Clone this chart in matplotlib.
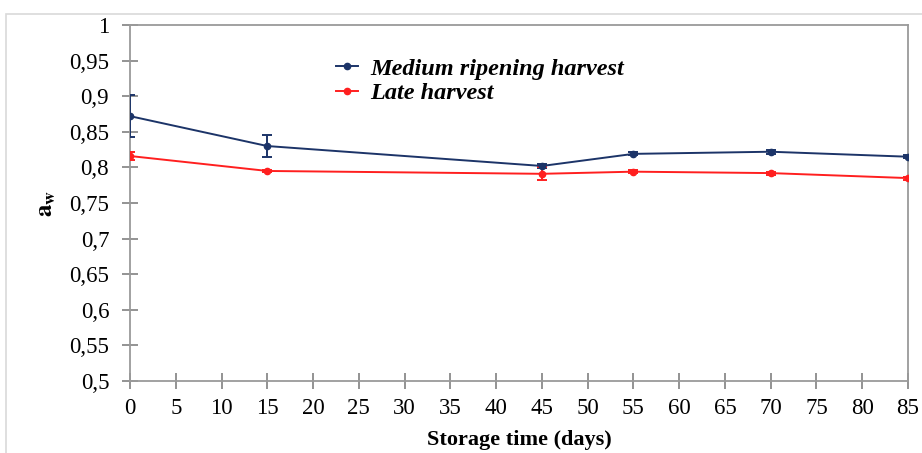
import matplotlib.pyplot as plt
from matplotlib.patches import Rectangle
from matplotlib.lines import Line2D
from matplotlib.ticker import FuncFormatter

# storage time (days)
days = [0, 15, 45, 55, 70, 85]
# water activity a_w
medium_aw = [0.872, 0.830, 0.802, 0.819, 0.822, 0.815]
medium_err = [0.030, 0.015, 0.003, 0.002, 0.003, 0.002]
late_aw = [0.816, 0.795, 0.791, 0.794, 0.792, 0.785]
late_err = [0.006, 0.002, 0.009, 0.002, 0.002, 0.002]

labels = ['Medium ripening harvest', 'Late harvest']
x_ticks = list(range(0, 90, 5))
y_ticks = [0.5, 0.55, 0.6, 0.65, 0.7, 0.75, 0.8, 0.85, 0.9, 0.95, 1.0]

plt.rcParams['font.family'] = ['Liberation Serif', 'DejaVu Serif']
plt.rcParams['mathtext.fontset'] = 'stix'

fig = plt.figure(figsize=(9.22, 4.53), dpi=100)
ax = fig.add_axes([130 / 922, 1 - 381 / 453, 778 / 922, 356 / 453])

# light outer border of the chart area
fig.patches.append(Rectangle((6 / 922, -0.1), 1.2, 1 - 14 / 453 + 0.1,
                             transform=fig.transFigure, fill=False,
                             edgecolor='#d9d9d9', linewidth=1.2))

blue = '#1c3468'
red = '#ff1f1f'
ax.errorbar(days, medium_aw, yerr=medium_err, color=blue, marker='o', markersize=4.5,
            linewidth=1.4, capsize=3.5, elinewidth=1.4, capthick=1.4, zorder=3)
ax.errorbar(days, late_aw, yerr=late_err, color=red, marker='o', markersize=4.5,
            linewidth=1.4, capsize=3.5, elinewidth=1.4, capthick=1.4, zorder=3)

ax.set_xlim(0, 85)
ax.set_ylim(0.5, 1.0)
ax.set_xticks(x_ticks)
ax.set_yticks(y_ticks)
ax.yaxis.set_major_formatter(FuncFormatter(lambda v, p: ('%g' % round(v, 2)).replace('.', ',')))
ax.tick_params(direction='inout', length=12, width=1.2, color='#808080', labelsize=16.5)
ax.tick_params(axis='x', pad=6)
ax.tick_params(axis='y', pad=9)
for s in ax.spines.values():
    s.set_color('#9a9a9a')
    s.set_linewidth(1.3)

ax.set_xlabel('Storage time (days)', fontsize=16, fontweight='bold', labelpad=8)
ax.set_ylabel(r'$\mathbf{a}_{\mathbf{w}}$', fontsize=18, labelpad=8)

handles = [Line2D([], [], color=blue, marker='o', markersize=4.5, linewidth=1.4),
           Line2D([], [], color=red, marker='o', markersize=4.5, linewidth=1.4)]
ax.legend(handles, labels, loc='upper left', bbox_to_anchor=(0.237, 0.97), frameon=False,
          prop={'style': 'italic', 'weight': 'bold', 'size': 17.5},
          handlelength=0.9, handletextpad=0.5, labelspacing=0.1)

fig.savefig('out.png', dpi=100)
